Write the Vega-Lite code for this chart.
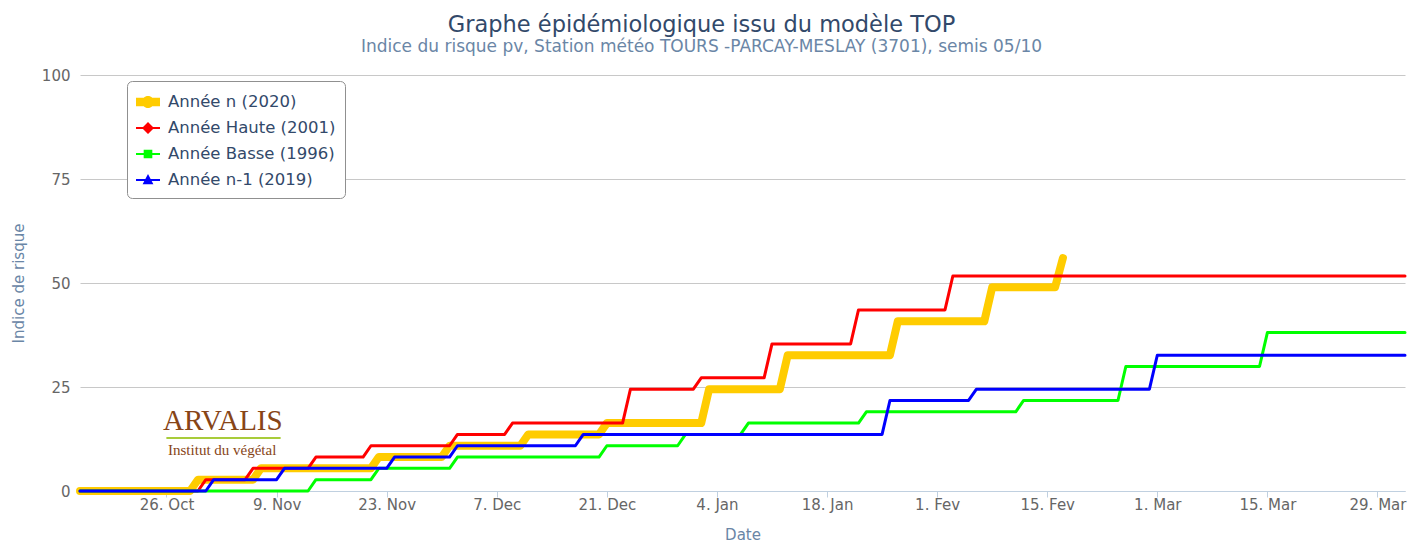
{
  "$schema": "https://vega.github.io/schema/vega-lite/v6.json",
  "width": 1325,
  "height": 416,
  "autosize": {"type": "none"},
  "padding": {"left": 80, "top": 75, "right": 7, "bottom": 51},
  "background": "white",
  "title": {
    "text": "Graphe épidémiologique issu du modèle TOP",
    "subtitle": "Indice du risque pv, Station météo TOURS -PARCAY-MESLAY (3701), semis 05/10",
    "anchor": "middle",
    "frame": "group",
    "dx": -41,
    "offset": 13,
    "font": "DejaVu Sans",
    "fontSize": 22.5,
    "fontWeight": "normal",
    "color": "#32496a",
    "subtitleFont": "DejaVu Sans",
    "subtitleFontSize": 17,
    "subtitleColor": "#6a86a6",
    "subtitlePadding": 3
  },
  "datasets": {
    "series": [
      {"serie": "Année n (2020)", "date": "2020-10-15", "value": 0},
      {"serie": "Année n (2020)", "date": "2020-10-29", "value": 0},
      {"serie": "Année n (2020)", "date": "2020-10-30", "value": 2.72},
      {"serie": "Année n (2020)", "date": "2020-11-06", "value": 2.72},
      {"serie": "Année n (2020)", "date": "2020-11-07", "value": 5.44},
      {"serie": "Année n (2020)", "date": "2020-11-21", "value": 5.44},
      {"serie": "Année n (2020)", "date": "2020-11-22", "value": 8.16},
      {"serie": "Année n (2020)", "date": "2020-11-30", "value": 8.16},
      {"serie": "Année n (2020)", "date": "2020-12-01", "value": 10.88},
      {"serie": "Année n (2020)", "date": "2020-12-10", "value": 10.88},
      {"serie": "Année n (2020)", "date": "2020-12-11", "value": 13.6},
      {"serie": "Année n (2020)", "date": "2020-12-20", "value": 13.6},
      {"serie": "Année n (2020)", "date": "2020-12-21", "value": 16.32},
      {"serie": "Année n (2020)", "date": "2021-01-02", "value": 16.32},
      {"serie": "Année n (2020)", "date": "2021-01-03", "value": 24.48},
      {"serie": "Année n (2020)", "date": "2021-01-12", "value": 24.48},
      {"serie": "Année n (2020)", "date": "2021-01-13", "value": 32.64},
      {"serie": "Année n (2020)", "date": "2021-01-26", "value": 32.64},
      {"serie": "Année n (2020)", "date": "2021-01-27", "value": 40.8},
      {"serie": "Année n (2020)", "date": "2021-02-07", "value": 40.8},
      {"serie": "Année n (2020)", "date": "2021-02-08", "value": 48.96},
      {"serie": "Année n (2020)", "date": "2021-02-16", "value": 48.96},
      {"serie": "Année n (2020)", "date": "2021-02-17", "value": 56.0},

      {"serie": "Année Haute (2001)", "date": "2020-10-15", "value": 0},
      {"serie": "Année Haute (2001)", "date": "2020-10-30", "value": 0},
      {"serie": "Année Haute (2001)", "date": "2020-10-31", "value": 2.72},
      {"serie": "Année Haute (2001)", "date": "2020-11-05", "value": 2.72},
      {"serie": "Année Haute (2001)", "date": "2020-11-06", "value": 5.44},
      {"serie": "Année Haute (2001)", "date": "2020-11-13", "value": 5.44},
      {"serie": "Année Haute (2001)", "date": "2020-11-14", "value": 8.16},
      {"serie": "Année Haute (2001)", "date": "2020-11-20", "value": 8.16},
      {"serie": "Année Haute (2001)", "date": "2020-11-21", "value": 10.88},
      {"serie": "Année Haute (2001)", "date": "2020-12-01", "value": 10.88},
      {"serie": "Année Haute (2001)", "date": "2020-12-02", "value": 13.6},
      {"serie": "Année Haute (2001)", "date": "2020-12-08", "value": 13.6},
      {"serie": "Année Haute (2001)", "date": "2020-12-09", "value": 16.32},
      {"serie": "Année Haute (2001)", "date": "2020-12-23", "value": 16.32},
      {"serie": "Année Haute (2001)", "date": "2020-12-24", "value": 24.48},
      {"serie": "Année Haute (2001)", "date": "2021-01-01", "value": 24.48},
      {"serie": "Année Haute (2001)", "date": "2021-01-02", "value": 27.2},
      {"serie": "Année Haute (2001)", "date": "2021-01-10", "value": 27.2},
      {"serie": "Année Haute (2001)", "date": "2021-01-11", "value": 35.36},
      {"serie": "Année Haute (2001)", "date": "2021-01-21", "value": 35.36},
      {"serie": "Année Haute (2001)", "date": "2021-01-22", "value": 43.52},
      {"serie": "Année Haute (2001)", "date": "2021-02-02", "value": 43.52},
      {"serie": "Année Haute (2001)", "date": "2021-02-03", "value": 51.68},
      {"serie": "Année Haute (2001)", "date": "2021-04-01T12:00:00Z", "value": 51.68},

      {"serie": "Année Basse (1996)", "date": "2020-10-15", "value": 0},
      {"serie": "Année Basse (1996)", "date": "2020-11-13", "value": 0},
      {"serie": "Année Basse (1996)", "date": "2020-11-14", "value": 2.72},
      {"serie": "Année Basse (1996)", "date": "2020-11-21", "value": 2.72},
      {"serie": "Année Basse (1996)", "date": "2020-11-22", "value": 5.44},
      {"serie": "Année Basse (1996)", "date": "2020-12-01", "value": 5.44},
      {"serie": "Année Basse (1996)", "date": "2020-12-02", "value": 8.16},
      {"serie": "Année Basse (1996)", "date": "2020-12-20", "value": 8.16},
      {"serie": "Année Basse (1996)", "date": "2020-12-21", "value": 10.88},
      {"serie": "Année Basse (1996)", "date": "2020-12-30", "value": 10.88},
      {"serie": "Année Basse (1996)", "date": "2020-12-31", "value": 13.6},
      {"serie": "Année Basse (1996)", "date": "2021-01-07", "value": 13.6},
      {"serie": "Année Basse (1996)", "date": "2021-01-08", "value": 16.32},
      {"serie": "Année Basse (1996)", "date": "2021-01-22", "value": 16.32},
      {"serie": "Année Basse (1996)", "date": "2021-01-23", "value": 19.04},
      {"serie": "Année Basse (1996)", "date": "2021-02-11", "value": 19.04},
      {"serie": "Année Basse (1996)", "date": "2021-02-12", "value": 21.76},
      {"serie": "Année Basse (1996)", "date": "2021-02-24", "value": 21.76},
      {"serie": "Année Basse (1996)", "date": "2021-02-25", "value": 29.92},
      {"serie": "Année Basse (1996)", "date": "2021-03-14", "value": 29.92},
      {"serie": "Année Basse (1996)", "date": "2021-03-15", "value": 38.08},
      {"serie": "Année Basse (1996)", "date": "2021-04-01T12:00:00Z", "value": 38.08},

      {"serie": "Année n-1 (2019)", "date": "2020-10-15", "value": 0},
      {"serie": "Année n-1 (2019)", "date": "2020-10-31", "value": 0},
      {"serie": "Année n-1 (2019)", "date": "2020-11-01", "value": 2.72},
      {"serie": "Année n-1 (2019)", "date": "2020-11-09", "value": 2.72},
      {"serie": "Année n-1 (2019)", "date": "2020-11-10", "value": 5.44},
      {"serie": "Année n-1 (2019)", "date": "2020-11-23", "value": 5.44},
      {"serie": "Année n-1 (2019)", "date": "2020-11-24", "value": 8.16},
      {"serie": "Année n-1 (2019)", "date": "2020-12-01", "value": 8.16},
      {"serie": "Année n-1 (2019)", "date": "2020-12-02", "value": 10.88},
      {"serie": "Année n-1 (2019)", "date": "2020-12-17", "value": 10.88},
      {"serie": "Année n-1 (2019)", "date": "2020-12-18", "value": 13.6},
      {"serie": "Année n-1 (2019)", "date": "2021-01-25", "value": 13.6},
      {"serie": "Année n-1 (2019)", "date": "2021-01-26", "value": 21.76},
      {"serie": "Année n-1 (2019)", "date": "2021-02-05", "value": 21.76},
      {"serie": "Année n-1 (2019)", "date": "2021-02-06", "value": 24.48},
      {"serie": "Année n-1 (2019)", "date": "2021-02-28", "value": 24.48},
      {"serie": "Année n-1 (2019)", "date": "2021-03-01", "value": 32.64},
      {"serie": "Année n-1 (2019)", "date": "2021-04-01T12:00:00Z", "value": 32.64}
    ],
    "logo": [
      {"label": "ARVALIS"}
    ],
    "logo2": [
      {"label": "Institut du végétal"}
    ]
  },
  "layer": [
    {
      "data": {"name": "series"},
      "transform": [{"filter": {"field": "serie", "equal": "Année n (2020)"}}],
      "mark": {"type": "line", "strokeWidth": 8, "strokeCap": "round", "strokeJoin": "round", "color": "#FFCC00"},
      "encoding": {
        "x": {
          "field": "date",
          "type": "temporal",
          "scale": {
            "type": "utc",
            "domain": [
              {"year": 2020, "month": 10, "date": 15, "utc": true},
              {"year": 2021, "month": 4, "date": 1, "hours": 12, "utc": true}
            ]
          },
          "axis": {
            "title": "Date",
            "values": [
              {"year": 2020, "month": 10, "date": 26, "utc": true},
              {"year": 2020, "month": 11, "date": 9, "utc": true},
              {"year": 2020, "month": 11, "date": 23, "utc": true},
              {"year": 2020, "month": 12, "date": 7, "utc": true},
              {"year": 2020, "month": 12, "date": 21, "utc": true},
              {"year": 2021, "month": 1, "date": 4, "utc": true},
              {"year": 2021, "month": 1, "date": 18, "utc": true},
              {"year": 2021, "month": 2, "date": 1, "utc": true},
              {"year": 2021, "month": 2, "date": 15, "utc": true},
              {"year": 2021, "month": 3, "date": 1, "utc": true},
              {"year": 2021, "month": 3, "date": 15, "utc": true},
              {"year": 2021, "month": 3, "date": 29, "utc": true}
            ],
            "labelExpr": "utcdate(datum.value) + '. ' + ['Jan','Fev','Mar','Avr','Mai','Jun','Jul','Aou','Sep','Oct','Nov','Dec'][utcmonth(datum.value)]",
            "grid": false,
            "domainColor": "#C0D0E0",
            "tickColor": "#C0D0E0",
            "tickSize": 6,
            "labelPadding": 0,
            "labelFlush": false,
            "labelOverlap": false,
            "labelFont": "DejaVu Sans",
            "labelFontSize": 15,
            "labelColor": "#666666",
            "titleFont": "DejaVu Sans",
            "titleFontSize": 15,
            "titleFontWeight": "normal",
            "titleColor": "#6a86a6",
            "titlePadding": 15
          }
        },
        "y": {
          "field": "value",
          "type": "quantitative",
          "scale": {"domain": [0, 100], "nice": false},
          "axis": {
            "title": "Indice de risque",
            "values": [0, 25, 50, 75, 100],
            "domain": false,
            "ticks": false,
            "grid": true,
            "gridColor": "#C8C8C8",
            "labelPadding": 10,
            "labelFont": "DejaVu Sans",
            "labelFontSize": 15,
            "labelColor": "#666666",
            "titleFont": "DejaVu Sans",
            "titleFontSize": 15,
            "titleFontWeight": "normal",
            "titleColor": "#6a86a6",
            "titlePadding": 15
          }
        }
      }
    },
    {
      "data": {"name": "series"},
      "transform": [{"filter": {"field": "serie", "equal": "Année Haute (2001)"}}],
      "mark": {"type": "line", "strokeWidth": 3, "strokeCap": "round", "strokeJoin": "round", "color": "#FF0000"},
      "encoding": {
        "x": {"field": "date", "type": "temporal"},
        "y": {"field": "value", "type": "quantitative"}
      }
    },
    {
      "data": {"name": "series"},
      "transform": [{"filter": {"field": "serie", "equal": "Année Basse (1996)"}}],
      "mark": {"type": "line", "strokeWidth": 3, "strokeCap": "round", "strokeJoin": "round", "color": "#00FF00"},
      "encoding": {
        "x": {"field": "date", "type": "temporal"},
        "y": {"field": "value", "type": "quantitative"}
      }
    },
    {
      "data": {"name": "series"},
      "transform": [{"filter": {"field": "serie", "equal": "Année n-1 (2019)"}}],
      "mark": {"type": "line", "strokeWidth": 3, "strokeCap": "round", "strokeJoin": "round", "color": "#0000FF"},
      "encoding": {
        "x": {"field": "date", "type": "temporal"},
        "y": {"field": "value", "type": "quantitative"}
      }
    },
    {
      "data": {"name": "series"},
      "mark": {"type": "point", "filled": true, "fillOpacity": 0, "strokeOpacity": 0},
      "encoding": {
        "x": {"field": "date", "type": "temporal"},
        "y": {"field": "value", "type": "quantitative"},
        "color": {
          "field": "serie",
          "type": "nominal",
          "scale": {
            "domain": ["Année n (2020)", "Année Haute (2001)", "Année Basse (1996)", "Année n-1 (2019)"],
            "range": ["#FFCC00", "#FF0000", "#00FF00", "#0000FF"]
          },
          "legend": {"title": null}
        },
        "shape": {
          "field": "serie",
          "type": "nominal",
          "scale": {
            "domain": ["Année n (2020)", "Année Haute (2001)", "Année Basse (1996)", "Année n-1 (2019)"],
            "range": [
              "M-1,-0.36H1V0.36H-1Z M-0.5,0A0.5,0.5 0 1,1 0.5,0A0.5,0.5 0 1,1 -0.5,0Z",
              "M-1,-0.09H1V0.09H-1Z M0,-0.5L0.5,0L0,0.5L-0.5,0Z",
              "M-1,-0.09H1V0.09H-1Z M-0.36,-0.36H0.36V0.36H-0.36Z",
              "M-1,-0.09H1V0.09H-1Z M0,-0.5L0.45,0.35L-0.45,0.35Z"
            ]
          },
          "legend": {"title": null}
        }
      }
    },
    {
      "data": {"name": "logo"},
      "mark": {"type": "text", "font": "Liberation Serif", "fontSize": 29, "align": "center", "baseline": "alphabetic", "color": "#874517"},
      "encoding": {
        "x": {"datum": {"year": 2020, "month": 11, "date": 2, "hours": 4, "utc": true}},
        "y": {"datum": 14.66},
        "text": {"field": "label"}
      }
    },
    {
      "data": {"name": "logo2"},
      "mark": {"type": "text", "font": "Liberation Serif", "fontSize": 15, "align": "center", "baseline": "alphabetic", "color": "#874517"},
      "encoding": {
        "x": {"datum": {"year": 2020, "month": 11, "date": 2, "hours": 2, "utc": true}},
        "y": {"datum": 8.65},
        "text": {"field": "label"}
      }
    },
    {
      "data": {"name": "logo"},
      "mark": {"type": "rule", "strokeWidth": 2, "strokeCap": "round", "color": "#a8cc3a"},
      "encoding": {
        "x": {"datum": {"year": 2020, "month": 10, "date": 26, "hours": 2, "utc": true}},
        "x2": {"datum": {"year": 2020, "month": 11, "date": 9, "hours": 10, "utc": true}},
        "y": {"datum": 12.74}
      }
    }
  ],
  "config": {
    "view": {"stroke": null},
    "legend": {
      "orient": "none",
      "legendX": 47,
      "legendY": 6,
      "padding": 9,
      "strokeColor": "#909090",
      "fillColor": "white",
      "cornerRadius": 5,
      "labelFont": "DejaVu Sans",
      "labelFontSize": 16.5,
      "labelColor": "#32496a",
      "labelLimit": 300,
      "labelOffset": 8,
      "symbolSize": 576,
      "symbolStrokeWidth": 0,
      "symbolOpacity": 1,
      "symbolFillOpacity": 1,
      "rowPadding": 5
    }
  }
}
